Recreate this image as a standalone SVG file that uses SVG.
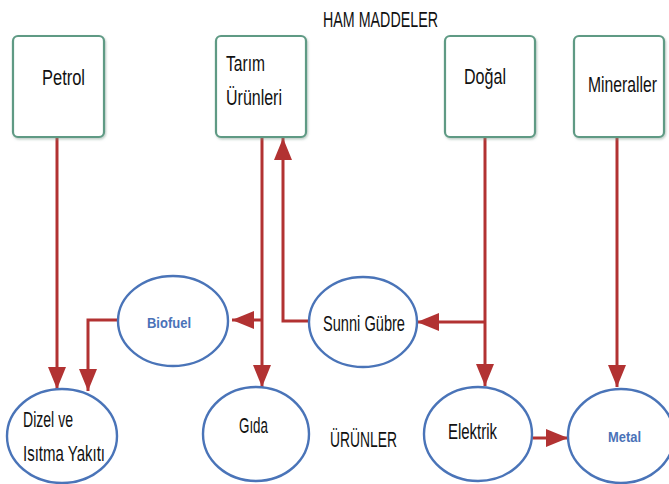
<svg xmlns="http://www.w3.org/2000/svg" width="669" height="484" viewBox="0 0 669 484">
  <defs>
    <marker id="head" markerUnits="userSpaceOnUse" viewBox="0 0 22 18" refX="22" refY="9" markerWidth="22" markerHeight="18" orient="auto">
      <path d="M0,0 L22,9 L0,18 z" fill="#b23232"/>
    </marker>
    <filter id="shadow" x="-10%" y="-10%" width="120%" height="120%">
      <feDropShadow dx="1" dy="1.5" stdDeviation="1" flood-color="#7a9a8a" flood-opacity="0.5"/>
    </filter>
  </defs>
  <style>
    text { font-family: "Liberation Sans", Arial, sans-serif; font-size: 22px; fill: #111; }
    .box { fill: #fff; stroke: #5e9a84; stroke-width: 2.2; }
    .oval { fill: #fff; stroke: #4a74b8; stroke-width: 2.4; }
    .blue { fill: #4a72b8; font-weight: bold; font-size: 15px; }
    .link { fill: none; stroke: #b23232; stroke-width: 3; }
    .arrow { marker-end: url(#head); }
  </style>
  <rect width="669" height="484" fill="#fff"/>

  <text id="title" x="323" y="27" textLength="115" lengthAdjust="spacingAndGlyphs">HAM MADDELER</text>
  <text id="products" x="330" y="447" textLength="67" lengthAdjust="spacingAndGlyphs">ÜRÜNLER</text>

  <!-- connectors -->
  <g id="connectors">
    <path class="link arrow" d="M57,137 V389"/>
    <path class="link arrow" d="M120,320 H88 V391"/>
    <path class="link arrow" d="M262,137 V387"/>
    <path class="link arrow" d="M262,320 H232"/>
    <path class="link arrow" d="M311,321 H283 V138"/>
    <path class="link arrow" d="M485,137 V386"/>
    <path class="link arrow" d="M485,322 H417"/>
    <path class="link arrow" d="M617,137 V387"/>
    <path class="link arrow" d="M533,438 H568"/>
  </g>

  <!-- raw material boxes -->
  <g id="petrol">
    <rect class="box" x="13" y="36" width="91" height="101" rx="5" filter="url(#shadow)"/>
    <text x="42" y="85" textLength="43" lengthAdjust="spacingAndGlyphs">Petrol</text>
  </g>
  <g id="tarim">
    <rect class="box" x="216" y="36" width="90" height="101" rx="5" filter="url(#shadow)"/>
    <text x="226" y="71" textLength="39" lengthAdjust="spacingAndGlyphs">Tarım</text>
    <text x="226" y="105" textLength="56" lengthAdjust="spacingAndGlyphs">Ürünleri</text>
  </g>
  <g id="dogal">
    <rect class="box" x="445" y="36" width="90" height="101" rx="5" filter="url(#shadow)"/>
    <text x="464" y="84" textLength="42" lengthAdjust="spacingAndGlyphs">Doğal</text>
  </g>
  <g id="mineraller">
    <rect class="box" x="574" y="36" width="90" height="101" rx="5" filter="url(#shadow)"/>
    <!-- narrowed horizontally so the label sits inside the box -->
    <text transform="translate(588,92) scale(0.714,1)">Mineraller</text>
  </g>

  <!-- product ellipses -->
  <g id="biofuel">
    <ellipse class="oval" cx="173" cy="321" rx="55" ry="45"/>
    <text class="blue" x="147" y="328" textLength="44" lengthAdjust="spacingAndGlyphs">Biofuel</text>
  </g>
  <g id="sunni-gubre">
    <ellipse class="oval" cx="363" cy="322" rx="54" ry="45"/>
    <text x="323" y="331" textLength="82" lengthAdjust="spacingAndGlyphs">Sunni Gübre</text>
  </g>
  <g id="dizel">
    <ellipse class="oval" cx="62" cy="436" rx="55" ry="47"/>
    <text x="23" y="427" textLength="50" lengthAdjust="spacingAndGlyphs">Dizel ve</text>
    <text x="23" y="461" textLength="82" lengthAdjust="spacingAndGlyphs">Isıtma Yakıtı</text>
  </g>
  <g id="gida">
    <ellipse class="oval" cx="256" cy="434" rx="53" ry="47"/>
    <text x="239" y="433" textLength="29" lengthAdjust="spacingAndGlyphs">Gıda</text>
  </g>
  <g id="elektrik">
    <ellipse class="oval" cx="478" cy="434" rx="54" ry="47"/>
    <text x="448" y="439" textLength="49" lengthAdjust="spacingAndGlyphs">Elektrik</text>
  </g>
  <g id="metal">
    <ellipse class="oval" cx="621" cy="436" rx="53" ry="47"/>
    <text class="blue" x="608" y="442" textLength="33" lengthAdjust="spacingAndGlyphs">Metal</text>
  </g>
</svg>
